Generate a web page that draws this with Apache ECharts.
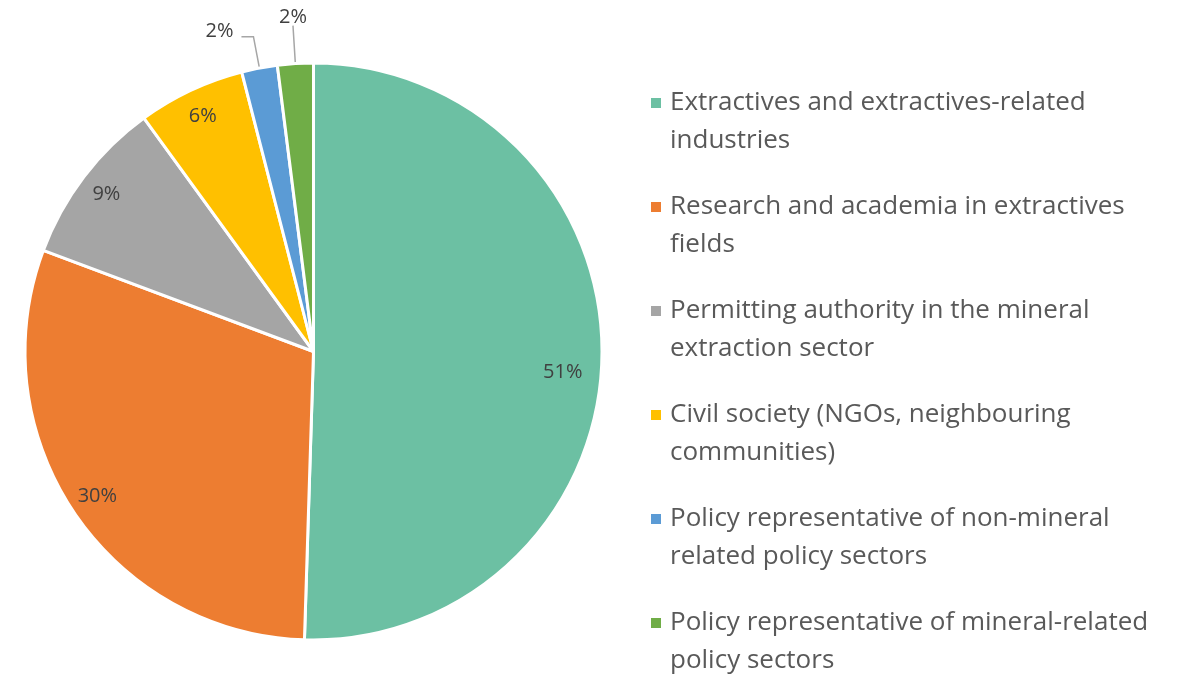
<!DOCTYPE html>
<html>
<head>
<meta charset="utf-8">
<script src="https://cdn.jsdelivr.net/npm/echarts@6/dist/echarts.min.js"></script>
<style>
  html, body { margin: 0; padding: 0; background: #fff; }
  #chart { width: 1201px; height: 677px; }
</style>
</head>
<body>
<div id="chart"></div>
<script>
// Stakeholder groups (legend text, wrapped as in the original)
const categories = [
  'Extractives and extractives-related\nindustries',
  'Research and academia in extractives\nfields',
  'Permitting authority in the mineral\nextraction sector',
  'Civil society (NGOs, neighbouring\ncommunities)',
  'Policy representative of non-mineral\nrelated policy sectors',
  'Policy representative of mineral-related\npolicy sectors'
];
// Shares in percent
const shares = [50.5, 30.2, 9.3, 6.0, 2.0, 2.0];
const colors = ['#6CC0A3', '#ED7D31', '#A5A5A5', '#FFC000', '#5B9BD5', '#70AD47'];

// small slices get outside labels with leader lines
const outsideLabel = [false, false, false, false, true, true];

const FONT = '"Open Sans", "Noto Sans", sans-serif';
const CENTER = [313.5, 351.5];
const R = 288.5;

const chart = echarts.init(document.getElementById('chart'), null, { renderer: 'canvas' });

const sliceData = categories.map((name, i) => ({
  name,
  value: shares[i],
  itemStyle: { color: colors[i] },
  label: { show: outsideLabel[i] },
  labelLine: {
    show: outsideLabel[i],
    length: i === 5 ? 38 : 32,
    length2: i === 5 ? 0 : 12
  }
}));

// transparent ring, only used to place the in-slice labels near the rim
const labelData = categories.map((name, i) => ({
  name,
  value: shares[i],
  label: { show: !outsideLabel[i] }
}));

chart.setOption({
  animation: false,
  color: colors,
  legend: {
    orient: 'vertical',
    left: 644,
    top: 41,
    height: 660,
    data: categories,
    icon: 'rect',
    itemWidth: 12,
    itemHeight: 12,
    itemGap: -10,
    // leading empty line keeps the marker level with the first text line
    formatter: name => '\n' + name,
    textStyle: {
      fontFamily: FONT,
      fontSize: 26,
      color: '#595959',
      lineHeight: 38,
      padding: [0, 0, 0, 3]
    }
  },
  series: [
    {
      type: 'pie',
      center: CENTER,
      radius: [0, R],
      startAngle: 90,
      clockwise: true,
      avoidLabelOverlap: false,
      percentPrecision: 0,
      itemStyle: { borderColor: '#fff', borderWidth: 3 },
      label: {
        position: 'outside',
        formatter: '{d}%',
        fontFamily: FONT,
        fontSize: 20,
        color: '#404040',
        distanceToLabelLine: 4
      },
      labelLine: {
        lineStyle: { color: '#A6A6A6', width: 1.5 }
      },
      labelLayout: function (params) {
        if (params.dataIndex === 5) {
          return { align: 'center', verticalAlign: 'bottom', dx: 4, dy: 2 };
        }
        if (params.dataIndex === 4) {
          return { dx: -4, dy: -5 };
        }
        return {};
      },
      emphasis: { disabled: true },
      data: sliceData
    },
    {
      type: 'pie',
      center: CENTER,
      radius: [226, R],
      startAngle: 90,
      clockwise: true,
      silent: true,
      avoidLabelOverlap: false,
      percentPrecision: 0,
      itemStyle: { color: 'rgba(0,0,0,0)', borderWidth: 0 },
      label: {
        position: 'inside',
        formatter: '{d}%',
        fontFamily: FONT,
        fontSize: 20,
        color: '#404040'
      },
      labelLayout: function (params) {
        if (params.dataIndex === 0) {
          return { dx: -11, dy: 17 };
        }
        return {};
      },
      labelLine: { show: false },
      emphasis: { disabled: true },
      data: labelData
    }
  ]
});
</script>
</body>
</html>
